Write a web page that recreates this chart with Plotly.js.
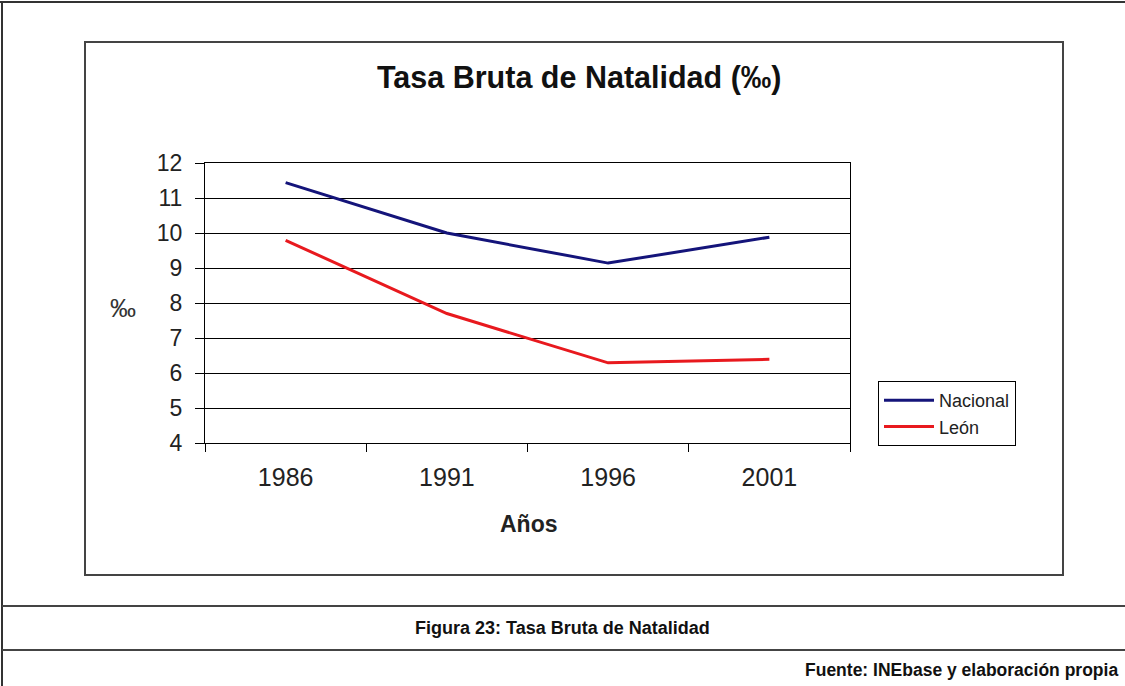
<!DOCTYPE html>
<html>
<head>
<meta charset="utf-8">
<script src="https://cdn.plot.ly/plotly-3.0.1.min.js"></script>
<style>html,body{margin:0;padding:0;background:#fff;}#chart{width:1125px;height:686px;}</style>
</head>
<body>
<div id="chart"></div>
<script>
// ---- data ----
const years = ['1986', '1991', '1996', '2001'];
const nacional = [11.44, 10.0, 9.14, 9.88];
const leon = [9.79, 7.7, 6.29, 6.39];
const seriesNames = ['Nacional', 'León'];
const yTicks = [4, 5, 6, 7, 8, 9, 10, 11, 12];

// ---- layout geometry (pixels) ----
const W = 1125, H = 686;
const L = 205, R = 850, T = 163, B = 443;
const px = x => (x - L) / (R - L);
const py = y => (B - y) / (B - T);
const FONT = 'Liberation Sans, Arial, sans-serif';

const traces = [
  {x: years, y: nacional, name: seriesNames[0], type: 'scatter', mode: 'lines',
   line: {color: '#14147a', width: 3}},
  {x: years, y: leon, name: seriesNames[1], type: 'scatter', mode: 'lines',
   line: {color: '#e8191e', width: 3}}
];

const layout = {
  width: W, height: H,
  margin: {l: L, r: W - R, t: T, b: H - B, pad: 0},
  paper_bgcolor: '#ffffff', plot_bgcolor: '#ffffff',
  font: {family: FONT, color: '#111'},
  showlegend: true,
  legend: {
    x: px(878), y: py(381), xanchor: 'left', yanchor: 'top',
    bordercolor: '#000', borderwidth: 1, bgcolor: '#fff',
    font: {size: 18, family: FONT, color: '#222'},
    itemwidth: 50, tracegroupgap: 0
  },
  xaxis: {
    type: 'category', categoryorder: 'array', categoryarray: years,
    range: [-0.5, 3.5], tickson: 'boundaries',
    ticks: 'outside', ticklen: 8, tickcolor: '#000', tickwidth: 1,
    showline: true, linecolor: '#000', linewidth: 1, mirror: true,
    showgrid: false, zeroline: false,
    tickfont: {size: 25, family: FONT, color: '#222'},
    ticklabelstandoff: 12,
    fixedrange: true
  },
  yaxis: {
    range: [4, 12], tickvals: yTicks, ticktext: yTicks.map(String),
    ticks: 'outside', ticklen: 9, tickcolor: '#000', tickwidth: 1,
    showline: true, linecolor: '#000', linewidth: 1, mirror: true,
    showgrid: true, gridcolor: '#000', gridwidth: 1, zeroline: false,
    tickfont: {size: 23, family: FONT, color: '#222'},
    ticklabelstandoff: 8,
    fixedrange: true
  },
  annotations: [
    {text: '<b>Tasa Bruta de Natalidad (‰)</b>', xref: 'paper', yref: 'paper',
     x: px(579), y: py(78), xanchor: 'center', yanchor: 'middle', showarrow: false,
     font: {size: 30.5, family: FONT, color: '#111'}},
    {text: '<b>Años</b>', xref: 'paper', yref: 'paper',
     x: px(529), y: py(524), xanchor: 'center', yanchor: 'middle', showarrow: false,
     font: {size: 23, family: FONT, color: '#222'}},
    {text: '‰', xref: 'paper', yref: 'paper',
     x: px(123), y: py(308), xanchor: 'center', yanchor: 'middle', showarrow: false,
     font: {size: 26, family: FONT, color: '#333'}},
    {text: '<b>Figura 23: Tasa Bruta de Natalidad</b>', xref: 'paper', yref: 'paper',
     x: px(562), y: py(628), xanchor: 'center', yanchor: 'middle', showarrow: false,
     font: {size: 18, family: FONT, color: '#111'}},
    {text: '<b>Fuente: INEbase y elaboración propia</b>', xref: 'paper', yref: 'paper',
     x: px(1120), y: py(670), xanchor: 'right', yanchor: 'middle', showarrow: false,
     font: {size: 17.5, family: FONT, color: '#111'}}
  ],
  shapes: [
    // outer frame: top and left
    {type: 'line', xref: 'paper', yref: 'paper', x0: px(0), x1: px(1125), y0: py(2), y1: py(2),
     line: {color: '#333', width: 2}},
    {type: 'line', xref: 'paper', yref: 'paper', x0: px(2), x1: px(2), y0: py(2), y1: py(686),
     line: {color: '#333', width: 2}},
    // chart box
    {type: 'rect', xref: 'paper', yref: 'paper', x0: px(85), x1: px(1063), y0: py(42), y1: py(575),
     line: {color: '#444', width: 2}, layer: 'below'},
    // caption separators
    {type: 'line', xref: 'paper', yref: 'paper', x0: px(2), x1: px(1125), y0: py(606), y1: py(606),
     line: {color: '#444', width: 2}},
    {type: 'line', xref: 'paper', yref: 'paper', x0: px(2), x1: px(1125), y0: py(650), y1: py(650),
     line: {color: '#444', width: 2}}
  ]
};

Plotly.newPlot('chart', traces, layout, {displayModeBar: false, staticPlot: true});
</script>
</body>
</html>
